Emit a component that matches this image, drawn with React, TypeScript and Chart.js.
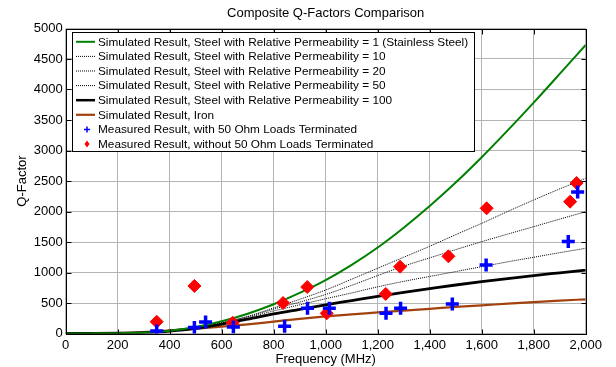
import React, { useEffect, useRef } from "react";
import { Chart, registerables } from "chart.js";

Chart.register(...registerables);

// ---------- Data ----------
const freqMHz = [0, 100, 200, 300, 400, 500, 600, 700, 800, 900, 1000, 1100, 1200, 1300, 1400, 1500, 1600, 1700, 1800, 1900, 2000];

const qSteelMu1 = [0, 2, 6, 15, 45, 105, 200, 325, 480, 665, 875, 1125, 1410, 1735, 2090, 2475, 2890, 3330, 3785, 4255, 4730];
const qSteelMu10 = [0, 2, 6, 15, 44, 100, 180, 280, 420, 560, 713, 890, 1070, 1250, 1430, 1620, 1806, 2000, 2189, 2370, 2544];
const qSteelMu20 = [0, 2, 6, 15, 43, 97, 175, 275, 400, 515, 640, 790, 950, 1105, 1240, 1375, 1505, 1630, 1751, 1875, 1997];
const qSteelMu50 = [0, 2, 5, 14, 42, 93, 165, 260, 370, 470, 570, 665, 765, 855, 935, 1015, 1095, 1175, 1250, 1325, 1397];
const qSteelMu100 = [0, 1, 4, 12, 40, 85, 155, 235, 320, 395, 470, 540, 610, 675, 735, 795, 850, 900, 950, 995, 1040];
const qIron = [0, 1, 5, 22, 50, 80, 112, 150, 195, 240, 280, 315, 345, 375, 405, 435, 460, 490, 515, 540, 560];

const measFreqWithLoad = [350, 495, 538, 645, 842, 930, 1014, 1232, 1288, 1487, 1617, 1933, 1969];
const measQWithLoad = [41, 100, 189, 105, 117, 413, 413, 331, 413, 484, 1123, 1510, 2320];

const measFreqNoLoad = [350, 495, 642, 836, 929, 1004, 1231, 1286, 1472, 1619, 1940, 1965];
const measQNoLoad = [193, 779, 177, 500, 762, 331, 648, 1095, 1265, 2052, 2161, 2467];

const xTicks = [0, 200, 400, 600, 800, 1000, 1200, 1400, 1600, 1800, 2000];
const yTicks = [0, 500, 1000, 1500, 2000, 2500, 3000, 3500, 4000, 4500, 5000];

const legendLabels = [
  "Simulated Result, Steel with Relative Permeability = 1 (Stainless Steel)",
  "Simulated Result, Steel with Relative Permeability = 10",
  "Simulated Result, Steel with Relative Permeability = 20",
  "Simulated Result, Steel with Relative Permeability = 50",
  "Simulated Result, Steel with Relative Permeability = 100",
  "Simulated Result, Iron",
  "Measured Result, with 50 Ohm Loads Terminated",
  "Measured Result, without 50 Ohm Loads Terminated",
];

const titleText = "Composite Q-Factors Comparison";
const xTitleText = "Frequency (MHz)";
const yTitleText = "Q-Factor";

const FONT = "'Liberation Sans', Arial, Helvetica, sans-serif";
const GREEN = "#008000";
const BROWN = "#a3410e";
const BLUE = "#0000ff";
const RED = "#ff0000";

const toXY = (xs: number[], ys: number[]) => xs.map((x, i) => ({ x, y: ys[i] }));

const framePlugin = {
  id: "framePlugin",
  afterDraw(chart: any) {
    const ctx = chart.ctx;
    const area = chart.chartArea;
    const xs = chart.scales.x;
    const ys = chart.scales.y;
    const L = Math.round(area.left) + 0.5;
    const R = Math.round(area.right) + 0.5;
    const T = Math.round(area.top) + 0.5;
    const B = Math.round(area.bottom) + 0.5;
    ctx.save();
    // title
    ctx.fillStyle = "#000";
    ctx.font = `13px ${FONT}`;
    ctx.textAlign = "center";
    ctx.textBaseline = "middle";
    ctx.fillText(titleText, (area.left + area.right) / 2, 13.5);

    // frame
    ctx.strokeStyle = "#000";
    ctx.lineWidth = 1;
    ctx.strokeRect(L, T, R - L, B - T);
    // inward ticks
    ctx.beginPath();
    xTicks.forEach((v) => {
      const px = Math.round(xs.getPixelForValue(v)) + 0.5;
      ctx.moveTo(px, B);
      ctx.lineTo(px, B - 5);
      ctx.moveTo(px, T);
      ctx.lineTo(px, T + 5);
    });
    yTicks.forEach((v) => {
      const py = Math.round(ys.getPixelForValue(v)) + 0.5;
      ctx.moveTo(L, py);
      ctx.lineTo(L + 5, py);
      ctx.moveTo(R, py);
      ctx.lineTo(R - 5, py);
    });
    ctx.stroke();

    // legend box
    const bx = 72.5, by = 32.5, bw = 402, bh = 119;
    ctx.fillStyle = "#fff";
    ctx.fillRect(bx, by, bw, bh);
    ctx.strokeStyle = "#000";
    ctx.lineWidth = 1;
    ctx.strokeRect(bx, by, bw, bh);

    const rowY0 = 41.8;
    const rowH = 14.6;
    chart.data.datasets.forEach((ds: any, i: number) => {
      const y = rowY0 + i * rowH;
      ctx.save();
      if (ds.showLine) {
        ctx.strokeStyle = ds.borderColor;
        ctx.lineWidth = Math.min(ds.borderWidth, 2.5);
        ctx.setLineDash(ds.borderDash || []);
        ctx.beginPath();
        ctx.moveTo(76, y);
        ctx.lineTo(95, y);
        ctx.stroke();
      } else if (ds.pointStyle === "cross") {
        ctx.strokeStyle = BLUE;
        ctx.lineWidth = 1.5;
        ctx.beginPath();
        ctx.moveTo(84, y);
        ctx.lineTo(90, y);
        ctx.moveTo(87, y - 3);
        ctx.lineTo(87, y + 3);
        ctx.stroke();
      } else {
        ctx.fillStyle = RED;
        ctx.beginPath();
        ctx.moveTo(87, y - 3.5);
        ctx.lineTo(89.5, y);
        ctx.lineTo(87, y + 3.5);
        ctx.lineTo(84.5, y);
        ctx.closePath();
        ctx.fill();
      }
      ctx.restore();
      ctx.fillStyle = "#000";
      ctx.font = `11.8px ${FONT}`;
      ctx.textAlign = "left";
      ctx.textBaseline = "middle";
      ctx.fillText(ds.label, 98, y + 0.5);
    });
    ctx.restore();
  },
};

export default function App() {
  const canvasRef = useRef<HTMLCanvasElement>(null);

  useEffect(() => {
    if (!canvasRef.current) return;
    const lineDs = (label: string, ys: number[], color: string, width: number, dash: number[]) => ({
      label,
      data: toXY(freqMHz, ys),
      showLine: true,
      borderColor: color,
      backgroundColor: color,
      borderWidth: width,
      borderDash: dash,
      pointRadius: 0,
      fill: false,
      cubicInterpolationMode: "monotone",
      order: 10,
    });

    const datasets: any[] = [
      lineDs(legendLabels[0], qSteelMu1, GREEN, 2, []),
      lineDs(legendLabels[1], qSteelMu10, "#000", 1, [1, 1]),
      lineDs(legendLabels[2], qSteelMu20, "#000", 1, [1, 1]),
      lineDs(legendLabels[3], qSteelMu50, "#000", 1, [1, 1]),
      lineDs(legendLabels[4], qSteelMu100, "#000", 2.8, []),
      lineDs(legendLabels[5], qIron, BROWN, 2.2, []),
      {
        label: legendLabels[6],
        data: toXY(measFreqWithLoad, measQWithLoad),
        showLine: false,
        pointStyle: "cross",
        pointRadius: 6.5,
        borderColor: BLUE,
        backgroundColor: BLUE,
        borderWidth: 3.5,
        order: 1,
      },
      {
        label: legendLabels[7],
        data: toXY(measFreqNoLoad, measQNoLoad),
        showLine: false,
        pointStyle: "rectRot",
        pointRadius: 6.5,
        borderColor: RED,
        backgroundColor: RED,
        borderWidth: 1,
        order: 2,
      },
    ];

    const chart = new Chart(canvasRef.current, {
      type: "scatter",
      data: { datasets },
      options: {
        animation: false,
        responsive: false,
        devicePixelRatio: 1,
        events: [],
        layout: { padding: { top: 28.5, right: 30.3, left: 0, bottom: 0 } },
        plugins: {
          legend: { display: false },
          title: { display: false },
          tooltip: { enabled: false },
        },
        scales: {
          x: {
            type: "linear",
            min: 0,
            max: 2000,
            afterBuildTicks: (s: any) => {
              s.ticks = xTicks.map((v) => ({ value: v }));
            },
            afterFit: (s: any) => {
              s.height = 33.5;
            },
            ticks: {
              callback: (v: any) => Number(v).toLocaleString("en-US"),
              color: "#000",
              font: { family: FONT, size: 13 },
              padding: 4,
              maxRotation: 0,
              autoSkip: false,
            },
            grid: { color: "#b4b4b4", lineWidth: 1, drawTicks: false },
            border: { display: false },
            title: {
              display: true,
              text: xTitleText,
              color: "#000",
              font: { family: FONT, size: 13 },
              padding: { top: 0, bottom: 0 },
            },
          },
          y: {
            type: "linear",
            min: 0,
            max: 5000,
            afterBuildTicks: (s: any) => {
              s.ticks = yTicks.map((v) => ({ value: v }));
            },
            afterFit: (s: any) => {
              s.width = 65.7;
            },
            ticks: {
              callback: (v: any) => String(v),
              color: "#000",
              font: { family: FONT, size: 13 },
              padding: 3,
              autoSkip: false,
            },
            grid: { color: "#b4b4b4", lineWidth: 1, drawTicks: false },
            border: { display: false },
            title: {
              display: true,
              text: yTitleText,
              color: "#000",
              font: { family: FONT, size: 13 },
              padding: { top: 15, bottom: 0 },
            },
          },
        },
      } as any,
      plugins: [framePlugin],
    });
    return () => chart.destroy();
  }, []);

  return (
    <div style={{ position: "fixed", left: 0, top: 0, width: 616, height: 367, background: "#fff" }}>
      <canvas ref={canvasRef} width={616} height={367} style={{ display: "block" }} />
    </div>
  );
}
